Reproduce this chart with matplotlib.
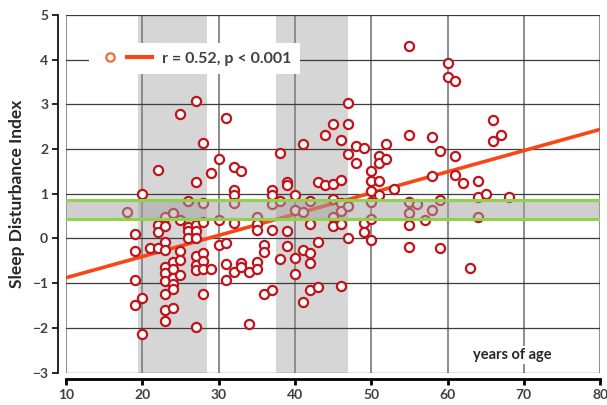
import matplotlib
matplotlib.use("Agg")
import matplotlib.pyplot as plt
from matplotlib.lines import Line2D
from matplotlib.legend_handler import HandlerTuple

plt.rcParams['font.family'] = ['Lato', 'DejaVu Sans']

# ages (years) and sleep disturbance index, one line per age group
age = [18,
       19, 19, 19, 19,
       20, 20, 20,
       21,
       22, 22, 22, 22,
       23, 23, 23, 23, 23, 23, 23, 23, 23, 23,
       24, 24, 24, 24, 24, 24, 24,
       25, 25, 25, 25, 25,
       26, 26, 26, 26,
       27, 27, 27, 27, 27, 27, 27, 27, 27,
       28, 28, 28, 28, 28, 28, 28,
       29, 29,
       30, 30, 30,
       31, 31, 31, 31,
       32, 32, 32, 32, 32, 32,
       33, 33, 33,
       34, 34,
       35, 35, 35, 35, 35,
       36, 36, 36,
       37, 37, 37, 37, 37,
       38, 38, 38,
       39, 39, 39, 39,
       40, 40, 40, 40,
       41, 41, 41, 41,
       42, 42, 42, 42, 42,
       43, 43, 43,
       44, 44,
       45, 45, 45, 45, 45,
       46, 46, 46, 46, 46, 46,
       47, 47, 47, 47, 47,
       48, 48,
       49, 49, 49,
       50, 50, 50, 50, 50, 50,
       51, 51, 51, 51,
       52, 52,
       53,
       55, 55, 55, 55, 55, 55,
       56,
       57,
       58, 58, 58,
       59, 59, 59,
       60, 60,
       61, 61, 61,
       62,
       63,
       64, 64, 64,
       65,
       66, 66,
       67,
       68]
sdi = [0.59,
       0.09, -0.28, -0.93, -1.49,
       0.99, -1.34, -2.14,
       -0.21,
       1.53, 0.30, 0.15, -0.21,
       0.48, 0.27, -0.08, -0.25, -0.65, -0.78, -0.95, -1.24, -1.60, -1.84,
       0.56, -0.52, -0.69, -0.89, -1.03, -1.14, -1.55,
       2.78, 0.41, -0.28, -0.48, -0.82,
       0.84, 0.26, 0.16, 0.02,
       3.07, 1.26, 0.30, 0.16, 0.00, -0.40, -0.60, -0.71, -1.99,
       2.14, 0.80, 0.37, -0.32, -0.50, -0.69, -1.25,
       1.47, -0.68,
       1.77, 0.41, -0.15,
       2.70, -0.10, -0.57, -0.93,
       1.60, 1.08, 0.97, 0.79, 0.34, -0.75,
       1.51, -0.54, -0.64,
       -0.75, -1.91,
       0.48, 0.32, 0.18, -0.52, -0.68,
       -0.14, -0.30, -1.24,
       1.09, 0.98, 0.76, 0.20, -1.15,
       1.92, 0.83, -0.45,
       1.27, 1.19, 0.16, -0.16,
       0.97, 0.63, -0.43, -0.79,
       2.11, 0.59, -0.25, -1.42,
       0.84, 0.32, -0.32, -0.56, -1.16,
       1.27, -0.07, -1.09,
       2.31, 1.20,
       2.55, 1.22, 0.89, 0.48, 0.27,
       2.20, 1.31, 0.80, 0.61, 0.33, -1.07,
       3.03, 2.55, 1.90, 0.73, 0.02,
       2.07, 1.69,
       2.03, 0.34, 0.15,
       1.51, 1.28, 1.07, 0.82, 0.44, -0.04,
       1.85, 1.68, 1.29, 0.97,
       2.11, 1.78,
       1.11,
       4.31, 2.32, 0.81, 0.58, 0.30, -0.19,
       0.76,
       0.42,
       2.26, 1.40, 0.64,
       1.96, 0.87, -0.22,
       3.93, 3.61,
       3.52, 1.84, 1.41,
       1.24,
       -0.67,
       1.29, 0.93, 0.48,
       1.00,
       2.66, 2.18,
       2.32,
       0.93]

# regression line end points
fit_age = [10, 80]
fit_sdi = [-0.88, 2.44]
fit_label = "r = 0.52, p < 0.001"

# shaded age windows and reference band
age_windows = [(19.5, 28.5), (37.5, 47.0)]
ref_band = (0.43, 0.87)

x_ticks = [10, 20, 30, 40, 50, 60, 70, 80]
y_ticks = [-3, -2, -1, 0, 1, 2, 3, 4, 5]

dot_red = "#c0141c"
fit_red = "#fa4616"
green = "#92d050"
txt = "#404040"

fig = plt.figure(figsize=(6.07, 4.05), dpi=100)
ax = fig.add_axes([0.1087, 0.0802, 0.88, 0.8828])

for lo, hi in age_windows:
    ax.axvspan(lo, hi, color="#d6d6d6", lw=0, zorder=0.2)

ax.plot(fit_age, fit_sdi, color=fit_red, lw=2.6, zorder=2, solid_capstyle="butt")
ax.plot(age, sdi, ls="none", marker="o", ms=6.6, mfc="white", mec=dot_red,
        mew=1.6, zorder=3)

ax.axhspan(ref_band[0], ref_band[1], color="#a0a0a0", alpha=0.5, lw=0, zorder=4)
for yv in ref_band:
    ax.axhline(yv, color=green, lw=2.2, zorder=5)

ax.set_xlim(10, 80)
ax.set_ylim(-3, 5)
ax.set_xticks(x_ticks)
ax.set_yticks(y_ticks)
ax.set_axisbelow(True)
ax.xaxis.grid(True, color="#8c8c8c", lw=1.4)
ax.yaxis.grid(True, color="#3c3c3c", lw=0.9)

for s in ["top", "right"]:
    ax.spines[s].set_visible(False)
ax.spines["left"].set_position(("outward", 5.8))
ax.spines["bottom"].set_position(("outward", 4.7))
ax.spines["left"].set_linewidth(1.2)
ax.spines["bottom"].set_linewidth(2.0)
ax.tick_params(axis="y", direction="out", length=4, width=1.2, labelsize=10,
               labelcolor=txt, pad=3)
ax.tick_params(axis="x", direction="out", length=4, width=2.0, labelsize=10,
               labelcolor=txt, pad=3)
for lab in ax.get_xticklabels() + ax.get_yticklabels():
    lab.set_fontweight("bold")

ax.set_ylabel("Sleep Disturbance Index", fontsize=12.5, fontweight="bold",
              color="#262626", labelpad=5)

ax.text(68.5, -2.61, "years of age", ha="center", va="center", fontsize=10.5,
        fontweight="bold", color="#262626", zorder=6,
        bbox=dict(facecolor="white", edgecolor="none", pad=1.5))

h_mark = Line2D([], [], ls="none", marker="o", ms=6, mfc="white",
                mec="#f26a2e", mew=1.6)
h_line = Line2D([], [], color=fit_red, lw=3)
leg = ax.legend([(h_mark, h_line)], [fit_label],
                handler_map={tuple: HandlerTuple(ndivide=None, pad=0.3)},
                loc="upper left", bbox_to_anchor=(0.043, 0.9225),
                borderaxespad=0, frameon=True, fancybox=False,
                framealpha=1, edgecolor="none", facecolor="white",
                handlelength=3.4, handletextpad=0.6, borderpad=0.55,
                prop=dict(family=['Lato', 'DejaVu Sans'], weight="bold", size=11.5))
for t in leg.get_texts():
    t.set_color(txt)
leg.set_zorder(7)

fig.savefig("out.png", dpi=100)
